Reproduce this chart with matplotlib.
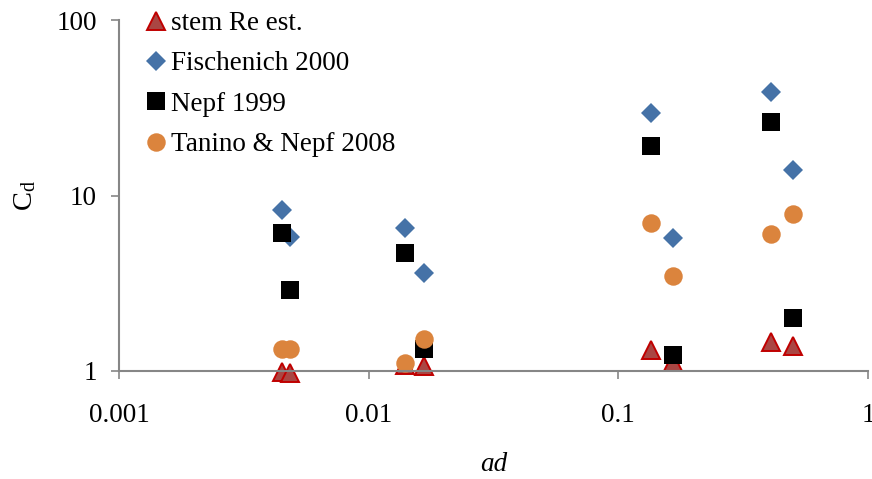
import matplotlib
matplotlib.use("Agg")
import matplotlib.pyplot as plt

plt.rcParams["font.family"] = ["Liberation Serif", "DejaVu Serif"]
plt.rcParams["mathtext.fontset"] = "custom"
plt.rcParams["mathtext.rm"] = "Liberation Serif"
plt.rcParams["mathtext.it"] = "Liberation Serif:italic"

# ad values (two per stand)
ad = [0.00448, 0.00482, 0.01402, 0.01673, 0.1351, 0.1654, 0.4098, 0.5004]

# drag coefficient estimates
stem_re = [0.99, 0.98, 1.08, 1.07, 1.31, 1.13, 1.47, 1.38]
fischenich = [8.27, 5.82, 6.50, 3.63, 29.6, 5.70, 38.7, 14.0]
nepf = [6.09, 2.89, 4.72, 1.34, 19.1, 1.24, 26.3, 2.00]
tanino = [1.34, 1.34, 1.11, 1.52, 7.0, 3.49, 6.06, 7.85]

FS = 19.5
AXIS_GREY = "#868686"

fig = plt.figure(figsize=(8.72, 4.79), dpi=100)
ax = fig.add_axes([119 / 872, 1 - 371 / 479, (868 - 119) / 872, (371 - 20) / 479])

ax.plot(ad, stem_re, ls="none", marker="^", ms=12.8, mfc="#AA4643", mec="#C00000",
        mew=1.4, label="stem Re est.", clip_on=False)
ax.plot(ad, fischenich, ls="none", marker="D", ms=9.8, mfc="#4572A7", mec="#4572A7",
        mew=0, label="Fischenich 2000", clip_on=False)
ax.plot(ad, nepf, ls="none", marker="s", ms=12.5, mfc="black", mec="black",
        mew=0, label="Nepf 1999", clip_on=False)
ax.plot(ad, tanino, ls="none", marker="o", ms=13.3, mfc="#DB843D", mec="#DB843D",
        mew=0, label="Tanino & Nepf 2008", clip_on=False)

ax.set_xscale("log")
ax.set_yscale("log")
ax.set_xlim(0.001, 1)
ax.set_ylim(1, 100)
ax.set_xticks([0.001, 0.01, 0.1, 1])
ax.set_xticklabels(["0.001", "0.01", "0.1", "1"])
ax.set_yticks([1, 10, 100])
ax.set_yticklabels(["1", "10", "100"])
ax.minorticks_off()

for s in ["top", "right"]:
    ax.spines[s].set_visible(False)
for s in ["left", "bottom"]:
    ax.spines[s].set_color(AXIS_GREY)
    ax.spines[s].set_linewidth(1.5)
ax.tick_params(direction="out", length=6, width=1.2, color=AXIS_GREY,
               labelsize=FS)
ax.tick_params(axis="x", pad=17)
ax.tick_params(axis="y", pad=10)

ax.set_xlabel("ad", fontsize=FS, style="italic", labelpad=17)
ax.set_ylabel("C$_\\mathregular{d}$", fontsize=FS + 1, labelpad=13)

ax.legend(loc="upper left", bbox_to_anchor=(148 / 872, 1 - 11 / 479),
          bbox_transform=fig.transFigure, frameon=False, fontsize=FS,
          handlelength=0.6, handletextpad=0.25, labelspacing=0.57,
          borderaxespad=0, borderpad=0)

fig.savefig("out.png", dpi=100)
